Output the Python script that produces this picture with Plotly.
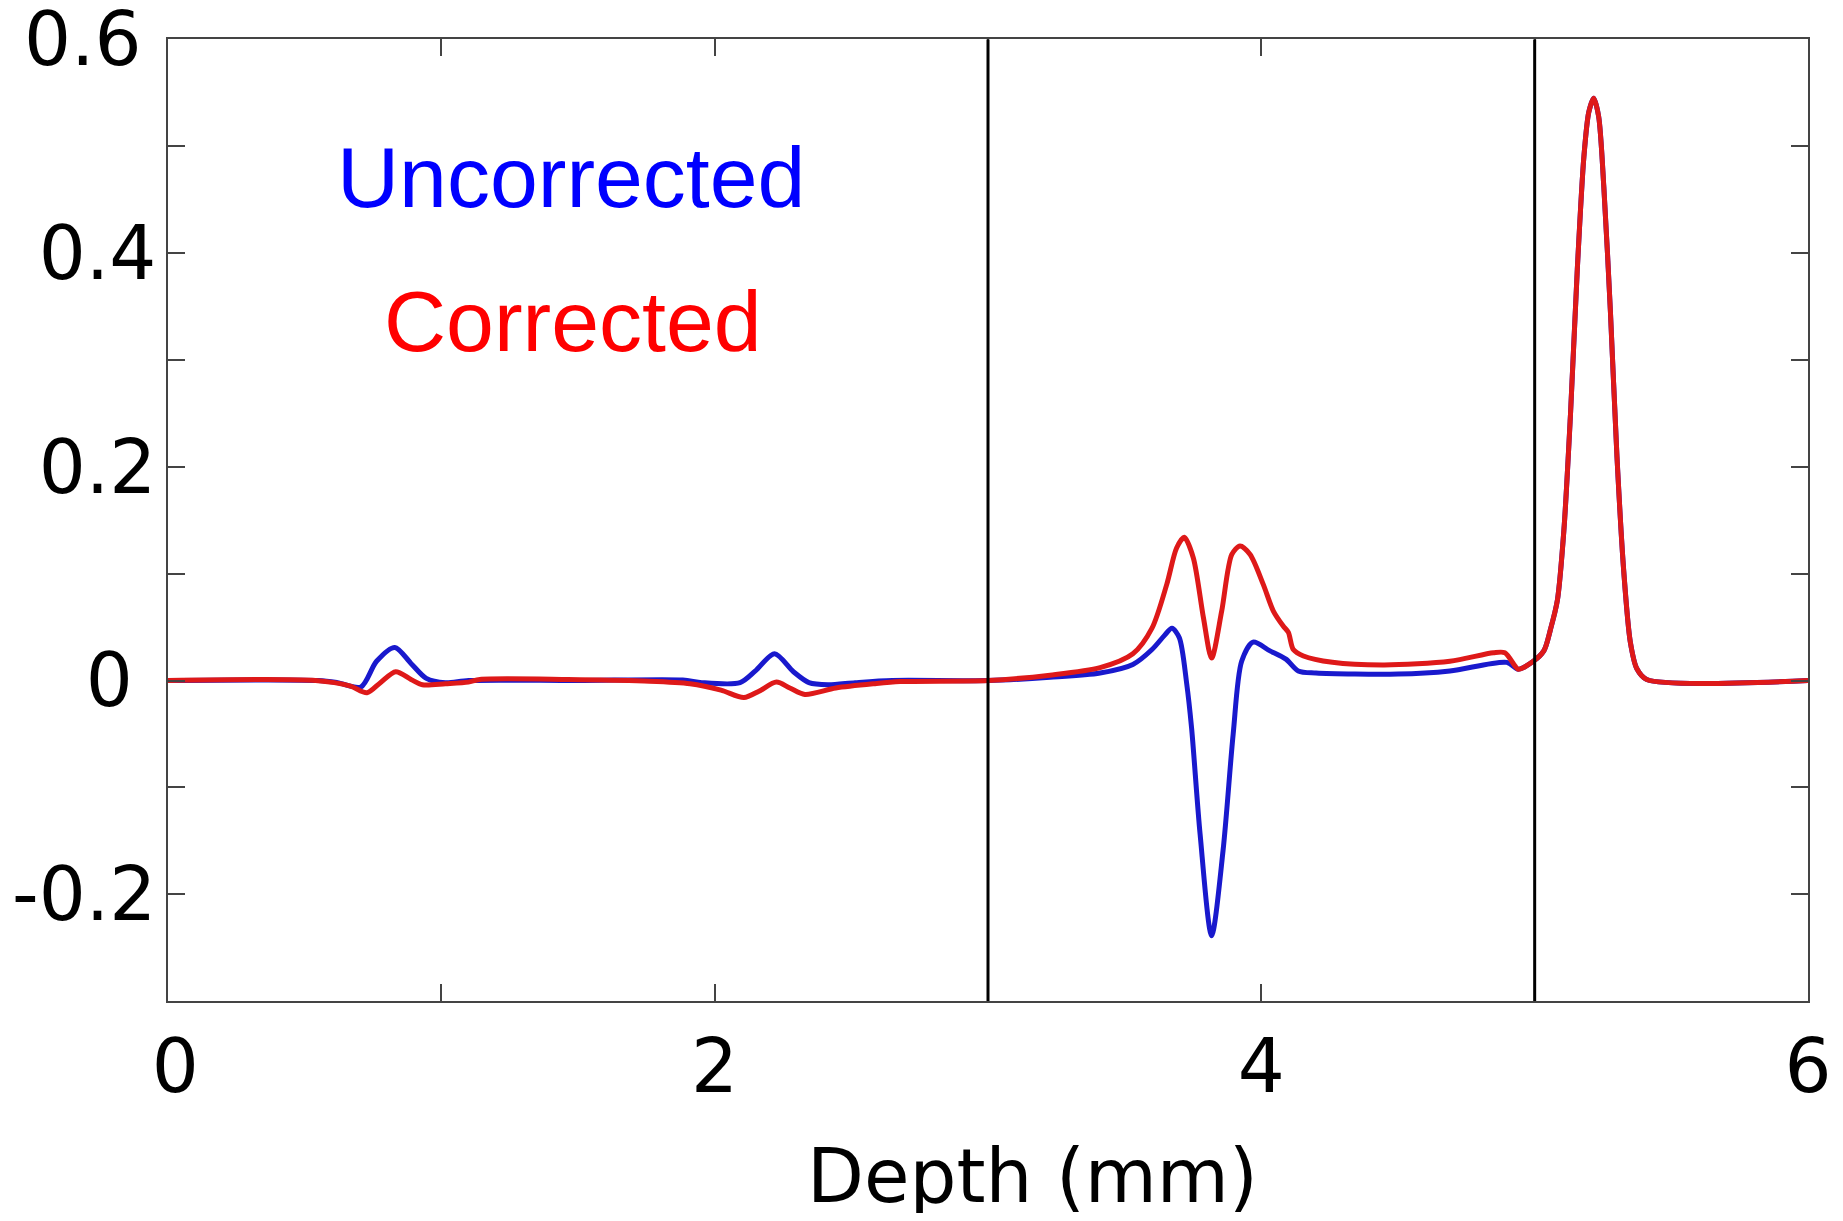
import plotly.graph_objects as go

# Uncorrected (blue) signal
blue_x = [0, 0.55, 0.62, 0.706, 0.763, 0.83, 0.889, 0.945, 1.015, 1.1, 1.5, 1.883, 1.953, 2.093, 2.149,
          2.219, 2.289, 2.345, 2.415, 2.514, 2.65, 3.0, 3.227, 3.41, 3.53, 3.60, 3.645, 3.673, 3.70, 3.727,
          3.745, 3.776, 3.818, 3.86, 3.897, 3.928, 3.97, 4.03, 4.09, 4.135, 4.20, 4.50, 4.69, 4.898, 4.94,
          4.995, 5.034, 5.058, 5.083, 5.107, 5.131, 5.156, 5.18, 5.198, 5.216, 5.234, 5.253, 5.277, 5.301,
          5.326, 5.35, 5.374, 5.41, 6.0]
blue_y = [0, 0, -0.002, -0.006, 0.018, 0.031, 0.016, 0.002, -0.002, 0, 0, 0.0005, -0.002, -0.002, 0.009,
          0.025, 0.008, -0.002, -0.004, -0.002, 0, 0, 0.003, 0.007, 0.015, 0.029, 0.042, 0.049, 0.040, -0.003,
          -0.045, -0.144, -0.239, -0.159, -0.050, 0.018, 0.036, 0.028, 0.020, 0.009, 0.007, 0.006, 0.009, 0.017, 0.0105,
          0.018, 0.028, 0.048, 0.075, 0.141, 0.249, 0.385, 0.49, 0.532, 0.545, 0.528, 0.462, 0.346, 0.210,
          0.102, 0.036, 0.011, 0.001, 0.0]

# Corrected (red) signal
red_x = [0, 0.54, 0.665, 0.728, 0.777, 0.833, 0.889, 0.931, 1.015, 1.099, 1.141, 1.463, 1.742, 1.91, 2.023,
         2.107, 2.162, 2.226, 2.275, 2.33, 2.443, 2.583, 2.678, 3.0, 3.227, 3.41, 3.53, 3.60, 3.654, 3.69,
         3.718, 3.751, 3.788, 3.818, 3.855, 3.892, 3.922, 3.959, 4.007, 4.044, 4.08, 4.099, 4.117, 4.154,
         4.26, 4.45, 4.69, 4.849, 4.891, 4.928, 4.94, 4.995, 5.034, 5.058, 5.083, 5.107, 5.131, 5.156, 5.18,
         5.198, 5.216, 5.234, 5.253, 5.277, 5.301, 5.326, 5.35, 5.374, 5.41, 6.0]
red_y = [0, 0, -0.005, -0.0114, -0.002, 0.0083, 0.001, -0.004, -0.003, -0.0015, 0.001, 0.001, -0.0005, -0.003,
         -0.009, -0.016, -0.010, -0.0015, -0.007, -0.013, -0.007, -0.003, -0.001, 0, 0.005, 0.012, 0.025, 0.049,
         0.090, 0.124, 0.134, 0.115, 0.059, 0.021, 0.065, 0.118, 0.126, 0.118, 0.090, 0.065, 0.051, 0.045,
         0.029, 0.023, 0.017, 0.0145, 0.018, 0.026, 0.026, 0.0136, 0.0105, 0.018, 0.028, 0.048, 0.075, 0.141,
         0.249, 0.385, 0.49, 0.532, 0.545, 0.528, 0.462, 0.346, 0.210, 0.102, 0.036, 0.011, 0.001, 0.0]

x_tickvals = [0, 1, 2, 3, 4, 5, 6]
x_ticktext = ["\u20090", "", "2", "", "4", "", "6"]
y_tickvals = [-0.3, -0.2, -0.1, 0, 0.1, 0.2, 0.3, 0.4, 0.5, 0.6]
y_ticktext = ["", "-0.2", "", "0\u2008", "", "0.2", "", "0.4", "", "0.6\u2009"]
boundaries = [3, 5]

fig = go.Figure()
fig.add_trace(go.Scatter(x=blue_x, y=blue_y, mode="lines", name="Uncorrected",
                         line=dict(color="rgb(25,25,205)", width=5, shape="spline", smoothing=0.8)))
fig.add_trace(go.Scatter(x=red_x, y=red_y, mode="lines", name="Corrected",
                         line=dict(color="rgb(222,25,25)", width=5, shape="spline", smoothing=0.8)))

for b in boundaries:
    fig.add_shape(type="line", x0=b, x1=b, y0=-0.3, y1=0.6, xref="x", yref="y",
                  line=dict(color="black", width=3))

fig.add_annotation(x=1.475, y=0.4717, xref="x", yref="y", text="Uncorrected", showarrow=False,
                   font=dict(family="Liberation Sans", size=86, color="#0000ff"))
fig.add_annotation(x=1.48, y=0.337, xref="x", yref="y", text="Corrected", showarrow=False,
                   font=dict(family="Liberation Sans", size=86, color="#ff0000"))
fig.add_annotation(x=0.527, y=-(1176 - 1001) / 962, xref="paper", yref="paper", yanchor="middle",
                   text="Depth (mm)", showarrow=False,
                   font=dict(family="DejaVu Sans", size=74, color="black"))

axis_common = dict(showgrid=False, zeroline=False, showline=True, linecolor="#444", linewidth=1.5,
                   ticks="inside", ticklen=17, tickcolor="#444", tickwidth=1.5, mirror="ticks",
                   automargin=False, ticklabeloverflow="allow",
                   tickfont=dict(family="DejaVu Sans", size=74, color="black"))

fig.update_xaxes(range=[0, 6], tickmode="array", tickvals=x_tickvals, ticktext=x_ticktext,
                 ticklabelstandoff=0, **axis_common)
fig.update_yaxes(range=[-0.3, 0.6005], tickmode="array", tickvals=y_tickvals, ticktext=y_ticktext,
                 ticklabelstandoff=-5, **axis_common)

# page body has an 8px margin; size the figure so the plot area lands where the reference has it
fig.update_layout(width=1827, height=1205, margin=dict(l=160, r=27, t=31, b=212),
                  plot_bgcolor="white", paper_bgcolor="white", showlegend=False)

fig.write_html("out.html")
